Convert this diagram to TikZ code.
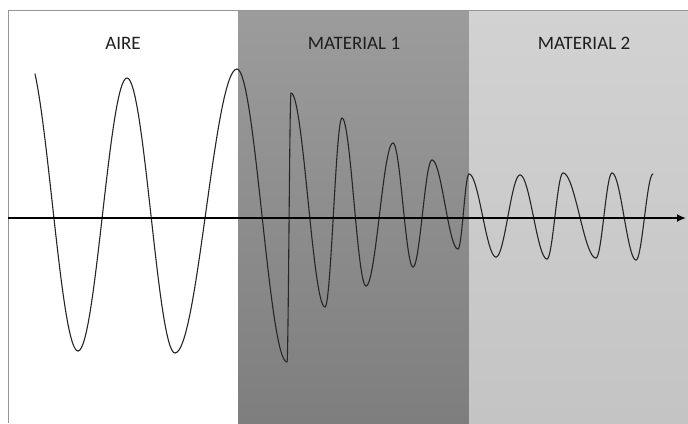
\documentclass[tikz,border=0pt]{standalone}
\usepackage{fontspec}
\setmainfont{Carlito}
\usepackage{xcolor}
\usepackage{tikz}
\usetikzlibrary{
    positioning,
    arrows.meta
}

\definecolor{matonetop}{RGB}{156,156,156}
\definecolor{matonebot}{RGB}{126,126,126}
\definecolor{mattwotop}{RGB}{210,210,210}
\definecolor{mattwobot}{RGB}{196,196,196}
\definecolor{framegray}{RGB}{150,150,150}
\definecolor{labtext}{RGB}{30,30,30}

\begin{document}
\begin{tikzpicture}[x=1pt, y=-1pt,
    lab/.style={font=\fontsize{19}{21}\selectfont, text=labtext, inner sep=0pt},
    wave/.style={line width=1.1pt, draw=black!85, line cap=round, line join=round},
    axis/.style={-{Latex[length=9pt, width=8pt]}, line width=2.6pt, draw=black}]

    \useasboundingbox (0,0) rectangle (688,423);

    % Regions
    \fill[white] (0,0) rectangle (688,423);
    \fill[top color=matonetop, bottom color=matonebot] (238,10) rectangle (469,423);
    \fill[top color=mattwotop, bottom color=mattwobot] (469,10) rectangle (688,423);
    \draw[framegray, line width=1pt] (8,423) -- (8,10) -- (688,10);

    % Labels
    \node[lab] (aire) at (123,43) {AIRE};
    \node[lab] (mat1) at (354,43) {MATERIAL 1};
    \node[lab] (mat2) at (584,43) {MATERIAL 2};

    % Wave (first half cycle enters cut)
    \draw[wave] plot[domain=30:180, samples=30]
      ({26.4+(78-26.4)*\x/180}, {(54+351)/2+(54-351)/2*cos(\x)});
    \foreach \ax/\ay/\bx/\by in {78/351/127/78, 127/78/175/353, 175/353/237/69,
        237/69/287/362, 287/362/291/93, 291/93/325/307, 325/307/342/118,
        342/118/366/286, 366/286/393/143, 393/143/413/267, 413/267/432/160,
        432/160/458/249, 458/249/469/174, 469/174/496/257, 496/257/520/175,
        520/175/547/259, 547/259/563/173, 563/173/596/258, 596/258/612/173,
        612/173/636/260, 636/260/653/174}{
      \draw[wave] plot[domain=0:180, samples=30]
        ({\ax+(\bx-\ax)*\x/180}, {(\ay+\by)/2+(\ay-\by)/2*cos(\x)});
    }

    % Axis
    \coordinate (axstart) at (8,218);
    \coordinate (axend) at (686,218);
    \draw[axis] (axstart) -- (axend);

\end{tikzpicture}
\end{document}
